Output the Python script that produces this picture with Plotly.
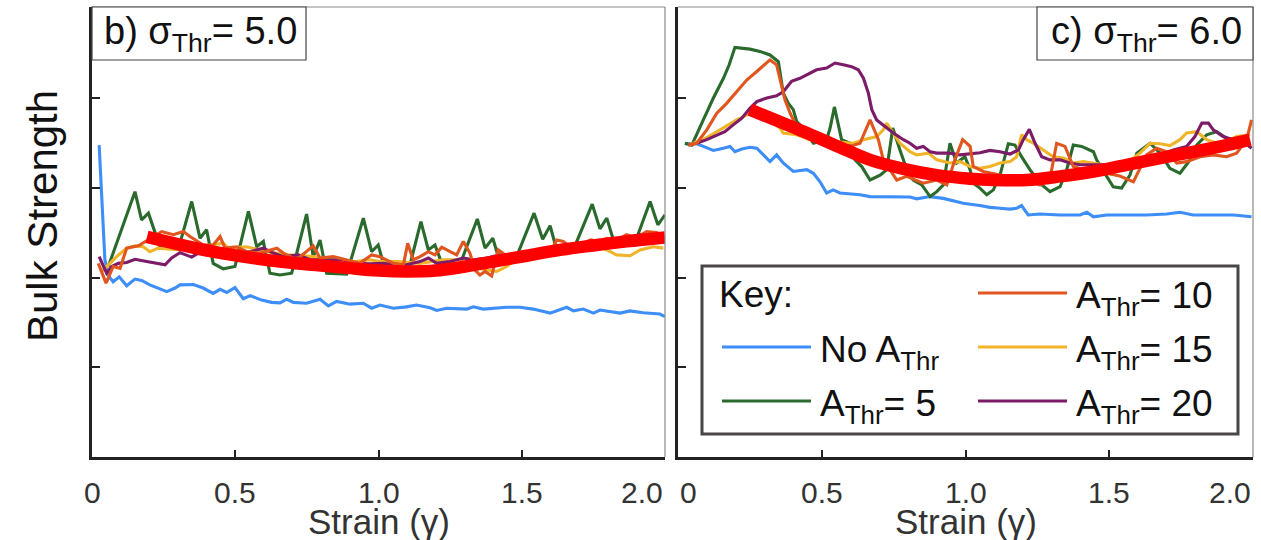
import plotly.graph_objects as go

# ---------------------------------------------------------------- data
# strain axis ticks (both panels)
TICK_VALS = [0, 0.5, 1.0, 1.5, 2.0]
TICK_TEXT = ["0", "0.5", "1.0", "1.5", "2.0"]
# bulk-strength ticks (unlabelled)
STRENGTH_TICKS = [20, 40, 60, 80]

# panel b) sigma_Thr = 5.0  -- (strain, bulk strength) pairs
b_none = [(0.025, 69.6), (0.045, 44.0), (0.06, 40.2), (0.074, 39.1), (0.095, 40.2), (0.121, 38.2),
          (0.15, 39.7), (0.173, 39.4), (0.202, 38.4), (0.231, 37.7), (0.261, 36.9), (0.29, 37.7),
          (0.307, 38.4), (0.354, 38.5), (0.388, 37.7), (0.423, 36.5), (0.447, 37.4), (0.47, 36.7),
          (0.499, 37.8), (0.528, 35.3), (0.552, 36.0), (0.592, 35.0), (0.627, 34.5), (0.656, 34.4),
          (0.68, 35.2), (0.703, 34.5), (0.749, 34.3), (0.796, 35.2), (0.825, 33.7), (0.854, 34.7),
          (0.901, 34.1), (0.947, 34.3), (0.976, 33.2), (1.005, 33.9), (1.052, 33.2), (1.098, 33.5),
          (1.133, 33.9), (1.18, 33.3), (1.203, 32.7), (1.238, 33.2), (1.308, 33.0), (1.331, 33.5),
          (1.366, 33.0), (1.447, 33.4), (1.494, 33.4), (1.54, 33.0), (1.599, 32.1), (1.657, 33.4),
          (1.68, 32.6), (1.715, 33.0), (1.75, 32.1), (1.773, 32.8), (1.843, 32.1), (1.878, 32.6),
          (1.924, 32.2), (1.982, 31.9), (2.0, 31.3)]
b_a5 = [(0.057, 42.5), (0.15, 59.2), (0.173, 52.9), (0.197, 54.4), (0.237, 46.9), (0.272, 46.6),
        (0.307, 47.7), (0.348, 57.0), (0.377, 48.8), (0.4, 50.7), (0.423, 43.2), (0.458, 42.0),
        (0.499, 42.5), (0.546, 54.8), (0.575, 46.9), (0.598, 48.1), (0.621, 41.0), (0.656, 40.6),
        (0.697, 41.0), (0.749, 54.2), (0.772, 44.7), (0.796, 48.4), (0.819, 41.0), (0.889, 40.8),
        (0.947, 53.3), (0.976, 45.8), (0.999, 47.3), (1.017, 43.2), (1.064, 42.5), (1.11, 42.9),
        (1.148, 52.5), (1.174, 46.2), (1.197, 47.3), (1.221, 43.2), (1.284, 42.9), (1.345, 53.1),
        (1.372, 46.6), (1.399, 48.8), (1.418, 44.7), (1.482, 44.7), (1.543, 54.4), (1.573, 48.6),
        (1.599, 51.6), (1.622, 46.2), (1.68, 46.2), (1.746, 56.4), (1.773, 50.9), (1.797, 53.3),
        (1.825, 47.3), (1.901, 48.8), (1.948, 57.0), (1.975, 51.8), (2.0, 54.0)]
b_a10 = [(0.022, 43.2), (0.049, 38.8), (0.074, 42.5), (0.098, 42.1), (0.121, 46.6), (0.162, 47.1),
         (0.243, 50.3), (0.284, 49.6), (0.319, 50.3), (0.342, 49.2), (0.388, 47.3), (0.423, 47.3),
         (0.447, 49.2), (0.464, 46.6), (0.505, 46.9), (0.54, 45.8), (0.586, 45.5), (0.645, 46.6),
         (0.668, 45.5), (0.714, 44.0), (0.772, 47.1), (0.796, 44.4), (0.842, 44.7), (0.889, 44.0),
         (0.935, 43.2), (0.976, 45.1), (1.005, 44.7), (1.052, 43.2), (1.087, 42.9), (1.102, 47.7),
         (1.121, 44.0), (1.145, 44.7), (1.174, 45.8), (1.197, 45.1), (1.221, 46.8), (1.25, 45.8),
         (1.273, 45.1), (1.296, 48.1), (1.319, 45.5), (1.337, 41.7), (1.354, 40.6), (1.372, 41.4),
         (1.395, 40.4), (1.418, 46.2), (1.442, 45.1), (1.482, 44.7), (1.529, 45.8), (1.564, 46.2),
         (1.599, 45.5), (1.622, 48.4), (1.645, 48.1), (1.668, 46.9), (1.703, 47.3), (1.738, 48.4),
         (1.773, 48.1), (1.797, 48.8), (1.831, 48.4), (1.866, 49.6), (1.901, 49.0), (1.936, 50.3),
         (1.971, 50.1), (1.994, 49.2)]
b_a15 = [(0.034, 41.4), (0.051, 42.5), (0.086, 44.7), (0.121, 46.6), (0.15, 47.1), (0.179, 46.9),
         (0.202, 45.8), (0.231, 46.6), (0.307, 46.2), (0.458, 47.7), (0.476, 46.6), (0.54, 46.9),
         (0.61, 45.8), (0.68, 45.1), (0.772, 44.7), (0.842, 44.0), (0.918, 43.6), (0.97, 44.0),
         (1.005, 43.6), (1.064, 43.6), (1.145, 43.2), (1.226, 44.0), (1.273, 44.0), (1.331, 42.5),
         (1.378, 41.7), (1.413, 41.4), (1.447, 42.5), (1.494, 44.7), (1.564, 45.8), (1.633, 46.6),
         (1.692, 46.9), (1.75, 47.3), (1.797, 46.2), (1.831, 45.1), (1.878, 44.9), (1.913, 46.2),
         (1.959, 46.9), (1.994, 46.6)]
b_a20 = [(0.025, 44.7), (0.051, 41.0), (0.069, 42.5), (0.092, 43.2), (0.121, 43.4), (0.15, 44.1),
         (0.191, 43.6), (0.231, 43.2), (0.255, 42.9), (0.278, 44.4), (0.307, 45.6), (0.348, 44.6),
         (0.371, 45.5), (0.4, 45.1), (0.447, 45.5), (0.493, 45.8), (0.551, 45.8), (0.598, 46.6),
         (0.633, 45.5), (0.668, 44.7), (0.72, 45.1), (0.761, 44.0), (0.819, 44.0), (0.877, 44.0),
         (0.924, 43.2), (0.97, 43.1), (1.017, 43.2), (1.052, 42.9), (1.098, 42.9), (1.145, 43.6),
         (1.174, 44.4), (1.203, 43.2), (1.25, 43.6), (1.296, 44.4), (1.331, 44.0), (1.378, 44.4),
         (1.424, 45.1), (1.47, 44.9), (1.564, 45.5), (1.633, 46.6), (1.692, 46.9), (1.744, 48.4),
         (1.773, 47.7), (1.82, 48.4), (1.866, 49.0), (1.913, 49.6), (1.948, 49.9), (1.983, 49.6)]
b_trend = [(0.192, 49.1), (0.422, 45.8), (0.656, 43.6), (0.889, 42.2), (1.0, 41.6), (1.1, 41.4),
           (1.2, 41.6), (1.284, 42.3), (1.4, 43.6), (1.517, 44.9), (1.633, 46.2), (1.749, 47.2),
           (1.866, 48.1), (2.0, 49.0)]

# panel c) sigma_Thr = 6.0
c_none = [(0.024, 69.9), (0.065, 69.9), (0.088, 69.3), (0.123, 68.4), (0.158, 68.9), (0.181, 69.3),
          (0.198, 68.1), (0.222, 68.7), (0.25, 69.1), (0.274, 68.9), (0.297, 67.4), (0.32, 65.9),
          (0.343, 67.4), (0.366, 65.6), (0.401, 63.7), (0.448, 64.1), (0.471, 63.3), (0.494, 61.4),
          (0.517, 58.9), (0.54, 59.6), (0.563, 58.9), (0.598, 58.7), (0.633, 58.5), (0.668, 58.1),
          (0.761, 58.1), (0.807, 58.0), (0.83, 57.6), (0.877, 58.1), (0.923, 57.7), (0.958, 57.2),
          (0.992, 56.6), (1.05, 56.1), (1.085, 55.7), (1.12, 55.5), (1.155, 55.3), (1.178, 55.5),
          (1.195, 56.1), (1.218, 54.0), (1.259, 54.2), (1.329, 54.0), (1.398, 54.0), (1.422, 54.6),
          (1.445, 53.6), (1.491, 54.0), (1.63, 54.0), (1.7, 54.2), (1.746, 54.6), (1.792, 54.0),
          (1.932, 54.0), (1.995, 53.6)]
c_a5 = [(0.024, 70.0), (0.048, 69.6), (0.088, 75.2), (0.123, 80.1), (0.158, 84.5), (0.178, 87.5),
        (0.198, 91.4), (0.25, 91.0), (0.285, 90.5), (0.32, 89.7), (0.349, 88.2), (0.366, 81.2),
        (0.384, 78.9), (0.401, 77.5), (0.413, 74.8), (0.436, 73.4), (0.471, 70.0), (0.517, 70.8),
        (0.529, 73.4), (0.544, 78.1), (0.569, 70.8), (0.598, 70.0), (0.616, 66.3), (0.639, 64.8),
        (0.668, 61.8), (0.703, 62.9), (0.726, 64.1), (0.747, 73.4), (0.772, 68.5), (0.796, 64.1),
        (0.818, 61.8), (0.848, 60.7), (0.877, 58.1), (0.9, 59.2), (0.923, 60.7), (0.946, 70.0),
        (0.969, 65.6), (0.998, 67.0), (1.016, 64.1), (1.027, 61.1), (1.05, 60.0), (1.074, 58.5),
        (1.097, 59.6), (1.12, 62.9), (1.149, 69.9), (1.172, 69.6), (1.195, 67.0), (1.224, 64.1),
        (1.259, 61.1), (1.294, 59.2), (1.329, 60.3), (1.352, 64.1), (1.375, 69.6), (1.404, 69.3),
        (1.445, 68.1), (1.456, 66.3), (1.491, 62.6), (1.514, 60.3), (1.543, 60.0), (1.572, 62.9),
        (1.596, 67.8), (1.642, 70.0), (1.677, 67.8), (1.711, 64.4), (1.746, 63.3), (1.781, 66.3),
        (1.804, 69.6), (1.839, 71.9), (1.874, 72.6), (1.908, 71.1), (1.943, 70.8), (1.99, 70.0)]
c_a10 = [(0.036, 69.6), (0.065, 70.0), (0.1, 73.0), (0.135, 76.7), (0.169, 78.9), (0.204, 81.5),
         (0.239, 84.1), (0.274, 86.0), (0.32, 88.6), (0.343, 87.5), (0.355, 84.1), (0.372, 79.7),
         (0.39, 76.7), (0.413, 73.7), (0.471, 70.8), (0.598, 69.3), (0.633, 70.0), (0.668, 75.2),
         (0.697, 70.8), (0.714, 66.3), (0.737, 64.1), (0.761, 61.8), (0.795, 62.6), (0.83, 61.8),
         (0.853, 61.1), (0.9, 61.8), (0.935, 60.7), (0.963, 66.3), (0.99, 70.8), (1.016, 69.3),
         (1.027, 64.8), (1.062, 63.7), (1.12, 62.9), (1.19, 62.3), (1.259, 60.7), (1.294, 62.2),
         (1.317, 70.0), (1.346, 69.3), (1.375, 64.8), (1.41, 64.1), (1.468, 63.6), (1.537, 62.7),
         (1.584, 61.4), (1.607, 64.4), (1.63, 67.4), (1.665, 68.9), (1.7, 68.1), (1.735, 65.6),
         (1.769, 65.9), (1.816, 67.0), (1.862, 67.4), (1.908, 67.0), (1.943, 67.8), (1.978, 70.8),
         (1.995, 75.2)]
c_a15 = [(0.036, 69.6), (0.088, 70.8), (0.146, 73.0), (0.204, 75.2), (0.239, 76.3), (0.274, 77.8),
         (0.355, 73.4), (0.366, 72.3), (0.413, 71.9), (0.459, 70.8), (0.54, 70.4), (0.61, 70.0),
         (0.645, 70.8), (0.691, 71.5), (0.714, 73.0), (0.726, 74.5), (0.737, 73.4), (0.772, 70.0),
         (0.807, 68.1), (0.83, 67.4), (0.871, 67.8), (0.9, 66.3), (0.946, 65.6), (0.981, 65.9),
         (1.016, 64.8), (1.05, 64.4), (1.085, 64.8), (1.12, 65.6), (1.155, 65.9), (1.178, 67.0),
         (1.195, 71.9), (1.213, 70.8), (1.236, 70.0), (1.271, 68.5), (1.305, 67.0), (1.34, 66.7),
         (1.375, 65.6), (1.41, 65.9), (1.445, 65.6), (1.479, 65.2), (1.514, 65.2), (1.561, 65.6),
         (1.607, 67.8), (1.642, 70.0), (1.677, 69.9), (1.711, 69.5), (1.746, 70.8), (1.769, 72.3),
         (1.804, 72.6), (1.839, 70.8), (1.874, 70.0), (1.908, 70.4), (1.943, 71.5), (1.99, 71.9)]
c_a20 = [(0.036, 69.6), (0.065, 70.0), (0.1, 70.8), (0.135, 71.9), (0.163, 72.6), (0.192, 74.1),
         (0.222, 75.6), (0.25, 77.8), (0.274, 79.3), (0.309, 80.1), (0.343, 80.6), (0.366, 81.5),
         (0.395, 83.8), (0.424, 84.5), (0.448, 85.3), (0.482, 86.4), (0.517, 86.8), (0.546, 87.9),
         (0.575, 87.5), (0.604, 87.1), (0.627, 86.4), (0.645, 84.5), (0.662, 81.2), (0.674, 77.5),
         (0.691, 75.2), (0.72, 73.7), (0.749, 72.3), (0.784, 70.8), (0.807, 70.0), (0.83, 68.9),
         (0.853, 69.3), (0.877, 68.1), (0.9, 67.8), (0.946, 67.8), (0.981, 67.4), (1.05, 67.9),
         (1.085, 68.4), (1.12, 68.1), (1.155, 67.6), (1.184, 68.5), (1.201, 70.8), (1.222, 73.1),
         (1.242, 70.0), (1.265, 67.0), (1.294, 66.3), (1.329, 66.3), (1.363, 65.6), (1.398, 65.2),
         (1.491, 65.2), (1.537, 65.6), (1.584, 66.3), (1.63, 66.7), (1.677, 67.4), (1.723, 68.5),
         (1.769, 69.3), (1.798, 71.5), (1.822, 74.5), (1.845, 74.5), (1.862, 73.0), (1.896, 71.5),
         (1.931, 70.8), (1.966, 70.4), (1.995, 68.9)]
c_trend = [(0.25, 77.5), (0.436, 72.6), (0.552, 69.4), (0.668, 66.3), (0.784, 64.3), (0.9, 62.9),
           (1.016, 62.1), (1.097, 61.8), (1.213, 61.8), (1.329, 62.6), (1.445, 63.7), (1.561, 65.2),
           (1.677, 66.7), (1.792, 68.1), (1.908, 69.6), (1.99, 70.8)]

# series styling: (label, colour)
SERIES = {
    "none": ("No A<sub>Thr</sub>", "#3d8ef8"),
    "a5": ("A<sub>Thr</sub>= 5", "#2a6a2c"),
    "a10": ("A<sub>Thr</sub>= 10", "#e0561e"),
    "a15": ("A<sub>Thr</sub>= 15", "#f0b429"),
    "a20": ("A<sub>Thr</sub>= 20", "#7c1b68"),
}
TREND_COLOR = "#ff0000"

PANELS = [
    ("x", "y", "b) σ<sub>Thr</sub>= 5.0",
     {"none": b_none, "a5": b_a5, "a15": b_a15, "a20": b_a20, "a10": b_a10}, b_trend),
    ("x2", "y2", "c) σ<sub>Thr</sub>= 6.0",
     {"none": c_none, "a5": c_a5, "a15": c_a15, "a20": c_a20, "a10": c_a10}, c_trend),
]

# ---------------------------------------------------------------- layout helpers
W, H = 1261, 540
FONT = "Liberation Sans, Arial, sans-serif"


def pxx(v):
    return v / W


def pxy(v):
    return 1 - v / H


fig = go.Figure()

for xa, ya, _, series, trend in PANELS:
    for key, pts in series.items():
        name, color = SERIES[key]
        fig.add_trace(go.Scatter(
            x=[p[0] for p in pts], y=[p[1] for p in pts], mode="lines",
            line=dict(color=color, width=3.1), xaxis=xa, yaxis=ya,
            showlegend=False, hoverinfo="skip"))
    fig.add_trace(go.Scatter(
        x=[p[0] for p in trend], y=[p[1] for p in trend], mode="lines",
        line=dict(color=TREND_COLOR, width=12.5, shape="spline", smoothing=1.0),
        xaxis=xa, yaxis=ya, showlegend=False, hoverinfo="skip"))

Y_TOP, Y_BOT = 7, 457
DOMAINS = [(92, 665), (678, 1253)]

axis_common = dict(
    range=[0, 2.0], tickvals=TICK_VALS[1:-1], ticks="inside", ticklen=7, tickwidth=2,
    tickcolor="#222222", showticklabels=False, showline=True, linewidth=3,
    linecolor="#222222", showgrid=False, zeroline=False, fixedrange=True)
yaxis_common = dict(
    range=[0, 100.4], tickvals=STRENGTH_TICKS, ticks="inside", ticklen=8, tickwidth=2,
    tickcolor="#222222", showticklabels=False, showline=True, linewidth=3,
    linecolor="#222222", showgrid=False, zeroline=False, fixedrange=True)

fig.update_layout(
    width=W, height=H, margin=dict(l=0, r=0, t=0, b=0),
    paper_bgcolor="white", plot_bgcolor="white",
    font=dict(family=FONT, color="#111111"),
    xaxis=dict(domain=[pxx(DOMAINS[0][0]), pxx(DOMAINS[0][1])], anchor="y", **axis_common),
    yaxis=dict(domain=[pxy(Y_BOT), pxy(Y_TOP)], anchor="x", **yaxis_common),
    xaxis2=dict(domain=[pxx(DOMAINS[1][0]), pxx(DOMAINS[1][1])], anchor="y2", **axis_common),
    yaxis2=dict(domain=[pxy(Y_BOT), pxy(Y_TOP)], anchor="x2", **yaxis_common),
)

shapes = []
annotations = []

# thin top/right frame edges and the panel title boxes
for (x0, x1), (xa, ya, title, _, _), box in zip(
        DOMAINS, PANELS, [(92, 306), (1037, 1253)]):
    shapes.append(dict(type="line", xref="paper", yref="paper",
                       x0=pxx(x0), x1=pxx(x1), y0=pxy(Y_TOP), y1=pxy(Y_TOP),
                       line=dict(color="#8a8a8a", width=1.2)))
    shapes.append(dict(type="line", xref="paper", yref="paper",
                       x0=pxx(x1), x1=pxx(x1), y0=pxy(Y_TOP), y1=pxy(Y_BOT),
                       line=dict(color="#8a8a8a", width=1.2)))
    shapes.append(dict(type="rect", xref="paper", yref="paper",
                       x0=pxx(box[0]), x1=pxx(box[1]), y0=pxy(60), y1=pxy(Y_TOP),
                       line=dict(color="#444444", width=1.2), fillcolor="white", layer="above"))
    annotations.append(dict(text=title, xref="paper", yref="paper",
                            x=pxx((box[0] + box[1]) / 2 + 1), y=pxy(34), xanchor="center",
                            yanchor="middle", showarrow=False,
                            font=dict(size=38, color="#111111")))
    # strain tick labels
    for v, t in zip(TICK_VALS, TICK_TEXT):
        anchor = "center"
        if v == TICK_VALS[-1]:
            anchor = "right"
        elif v == TICK_VALS[0] and xa == "x2":
            anchor = "left"
        annotations.append(dict(text=t, xref=xa, yref="paper", x=v, y=pxy(492),
                                xanchor=anchor, yanchor="middle", showarrow=False,
                                font=dict(size=30, color="#333333")))
    annotations.append(dict(text="Strain (γ)", xref=xa, yref="paper", x=1.0, y=pxy(521),
                            xanchor="center", yanchor="middle", showarrow=False,
                            font=dict(size=35, color="#333333")))

annotations.append(dict(text="Bulk Strength", xref="paper", yref="paper",
                        x=pxx(42), y=pxy(216), textangle=-90, xanchor="center",
                        yanchor="middle", showarrow=False,
                        font=dict(size=42, color="#111111")))

# key box
shapes.append(dict(type="rect", xref="paper", yref="paper",
                   x0=pxx(702), x1=pxx(1238), y0=pxy(434), y1=pxy(266),
                   line=dict(color="#4a4646", width=3), fillcolor="white", layer="above"))
annotations.append(dict(text="Key:", xref="paper", yref="paper", x=pxx(717), y=pxy(294),
                        xanchor="left", yanchor="middle", showarrow=False,
                        font=dict(size=37, color="#111111")))
KEY_SLOTS = [("none", 722, 347), ("a5", 722, 401),
             ("a10", 978, 293), ("a15", 978, 347), ("a20", 978, 401)]
for key, lx, ly in KEY_SLOTS:
    name, color = SERIES[key]
    shapes.append(dict(type="line", xref="paper", yref="paper",
                       x0=pxx(lx), x1=pxx(lx + 89), y0=pxy(ly), y1=pxy(ly),
                       line=dict(color=color, width=3), layer="above"))
    annotations.append(dict(text=name, xref="paper", yref="paper", x=pxx(lx + 96),
                            y=pxy(ly + 5), xanchor="left", yanchor="middle", showarrow=False,
                            font=dict(size=37, color="#111111")))

fig.update_layout(shapes=shapes, annotations=annotations)
fig.write_html("out.html")
